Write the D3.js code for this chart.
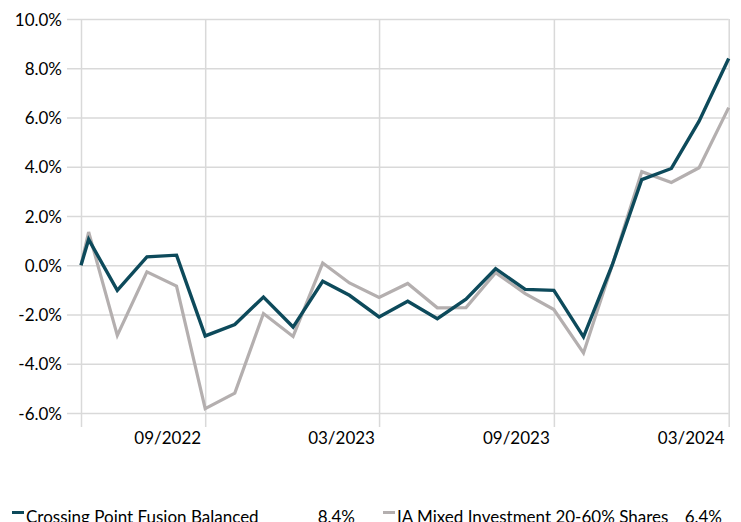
<!DOCTYPE html>
<html lang="en">
<head>
<meta charset="UTF-8">
<title>Performance chart</title>
<script src="https://cdn.jsdelivr.net/npm/d3@7"></script>
<style>
  body { margin: 0; background: #fff; }
  svg { display: block; font-family: Lato, "Open Sans", sans-serif; }
</style>
</head>
<body>
<script>
// month-end dates (first point is the start date)
var dates = ["2022-05-23", "2022-05-31", "2022-06-30", "2022-07-31", "2022-08-31", "2022-09-30",
             "2022-10-31", "2022-11-30", "2022-12-31", "2023-01-31", "2023-02-28", "2023-03-31",
             "2023-04-30", "2023-05-31", "2023-06-30", "2023-07-31", "2023-08-31", "2023-09-30",
             "2023-10-31", "2023-11-30", "2023-12-31", "2024-01-31", "2024-02-29", "2024-03-31"];

var fusion = [0.0, 1.05, -1.02, 0.34, 0.41, -2.87, -2.41, -1.29, -2.51, -0.65, -1.22, -2.10,
              -1.46, -2.17, -1.38, -0.14, -0.98, -1.02, -2.91, 0.0, 3.48, 3.93, 5.85, 8.4];
var sector = [0.0, 1.35, -2.85, -0.27, -0.85, -5.82, -5.19, -1.96, -2.89, 0.09, -0.72, -1.31,
              -0.74, -1.73, -1.72, -0.30, -1.15, -1.80, -3.56, 0.0, 3.80, 3.36, 3.96, 6.4];

var seriesNames = ["Crossing Point Fusion Balanced", "IA Mixed Investment 20-60% Shares"];
var seriesTotals = ["8.4%", "6.4%"];

var yTicks = [-6, -4, -2, 0, 2, 4, 6, 8, 10];
var xTicks = ["2022-05-23", "2022-09-30", "2023-03-31", "2023-09-30", "2024-03-31"];
var xTickLabels = ["", "09/2022", "03/2023", "09/2023", "03/2024"];

var width = 741, height = 522;
var plotL = 81, plotR = 728.7, plotT = 19, plotB = 413;
var grid = "#d9d9d9", darkCol = "#0d4a5b", greyCol = "#b4afaf";

var parse = d3.timeParse("%Y-%m-%d");
var dts = dates.map(parse);

var x = d3.scaleTime().domain([dts[0], dts[dts.length - 1]]).range([plotL, plotR]);
var y = d3.scaleLinear().domain([-6, 10]).range([plotB, plotT]);

var svg = d3.select("body").append("svg")
  .attr("width", width)
  .attr("height", height);

// horizontal gridlines + y labels
var yAxis = svg.append("g")
  .attr("transform", "translate(67,0)")
  .call(d3.axisLeft(y).tickValues(yTicks)
    .tickFormat(function(d) { return d.toFixed(1) + "%"; })
    .tickSize(-(plotR - 67)).tickPadding(5))
  .attr("font-family", null);
yAxis.select(".domain").remove();
yAxis.selectAll("line").attr("stroke", grid).attr("stroke-width", 1.5);
yAxis.selectAll("text").attr("font-size", 17).attr("fill", "#000").attr("dy", "0.36em");

// vertical gridlines + date labels
var xAxis = svg.append("g")
  .attr("transform", "translate(0,427)")
  .call(d3.axisBottom(x).tickValues(xTicks.map(parse))
    .tickFormat(function(d, i) { return xTickLabels[i]; })
    .tickSize(-(427 - plotT)))
  .attr("font-family", null);
xAxis.select(".domain").remove();
xAxis.selectAll("line").attr("stroke", grid).attr("stroke-width", 1.5);
xAxis.selectAll("text")
  .attr("font-size", 17).attr("fill", "#000")
  .attr("x", -38).attr("y", 17).attr("dy", 0);

var line = d3.line()
  .x(function(d, i) { return x(dts[i]); })
  .y(function(d) { return y(d); });

svg.append("path").datum(sector)
  .attr("d", line).attr("fill", "none")
  .attr("stroke", greyCol).attr("stroke-width", 3.2)
  .attr("stroke-linejoin", "miter");

svg.append("path").datum(fusion)
  .attr("d", line).attr("fill", "none")
  .attr("stroke", darkCol).attr("stroke-width", 3.4)
  .attr("stroke-linejoin", "miter");

// legend (sits partly below the bottom edge, as in the original)
var legendX = [12, 383], totalX = [355, 722];
var cols = [darkCol, greyCol];
var lg = svg.append("g").attr("font-size", 17);
seriesNames.forEach(function(name, i) {
  lg.append("rect").attr("x", legendX[i]).attr("y", 511)
    .attr("width", 12).attr("height", 3).attr("fill", cols[i]);
  lg.append("text").attr("x", legendX[i] + 14).attr("y", 523).text(name);
  lg.append("text").attr("x", totalX[i]).attr("y", 523)
    .attr("text-anchor", "end").text(seriesTotals[i]);
});
</script>
</body>
</html>
